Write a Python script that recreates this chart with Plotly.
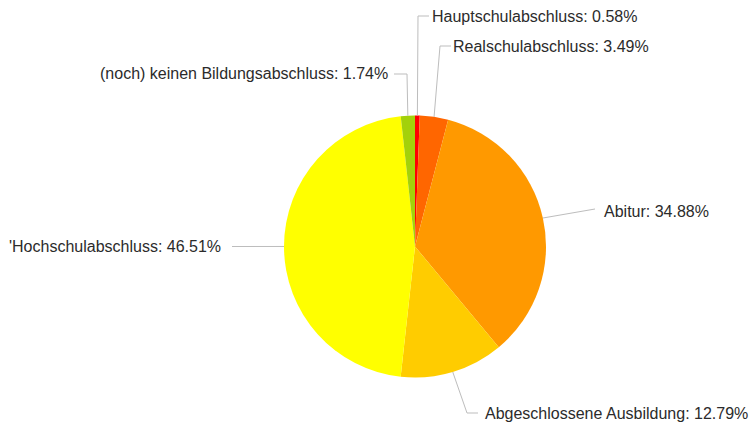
import math
import plotly.graph_objects as go

# Highest educational attainment, share in percent
categories = [
    "Hauptschulabschluss",
    "Realschulabschluss",
    "Abitur",
    "Abgeschlossene Ausbildung",
    "'Hochschulabschluss",
    "(noch) keinen Bildungsabschluss",
]
shares = [0.58, 3.49, 34.88, 12.79, 46.51, 1.74]
colors = ["#FF0000", "#FF6600", "#FF9900", "#FFCC00", "#FFFF00", "#A3D10A"]

W, H = 749, 429
CX, CY, R = 415, 246.5, 131  # pie centre and radius in pixels

# label placement: (elbow point, text anchor point, text side)
label_layout = [
    ((418, 16), (430, 17), "left"),
    ((440, 46), (451, 47), "left"),
    ((595, 209), (602, 211), "left"),
    ((467, 413), (483, 413), "left"),
    ((232, 246.5), (223, 246.5), "right"),
    ((407, 74), (390, 74), "right"),
]
# short horizontal stubs after the elbow (pixels, signed)
stubs = [11, 11, 0, 11, 0, -13]


def px(x):
    return x / W


def py(y):
    return 1 - y / H


fig = go.Figure(
    go.Pie(
        labels=categories,
        values=shares,
        sort=False,
        direction="clockwise",
        rotation=0,
        marker=dict(colors=colors, line=dict(width=0)),
        textinfo="none",
        hoverinfo="label+percent",
        showlegend=False,
        domain=dict(x=[px(CX - R), px(CX + R)], y=[py(CY + R), py(CY - R)]),
    )
)

total = sum(shares)
cum = 0.0
shapes = []
annotations = []
for name, val, (elbow, tpos, side), stub in zip(categories, shares, label_layout, stubs):
    mid = (cum + val / 2) / total * 2 * math.pi
    cum += val
    ex = CX + R * math.sin(mid)
    ey = CY - R * math.cos(mid)
    pts = [(ex, ey), elbow]
    if stub:
        pts.append((elbow[0] + stub, elbow[1]))
    path = "M " + " L ".join(f"{px(x)},{py(y)}" for x, y in pts)
    shapes.append(
        dict(type="path", path=path, xref="paper", yref="paper",
             line=dict(color="#BDBDBD", width=1))
    )
    annotations.append(
        dict(
            x=px(tpos[0]), y=py(tpos[1]), xref="paper", yref="paper",
            text=f"{name}: {val:.2f}%", showarrow=False,
            xanchor=side, yanchor="middle",
            font=dict(family="Liberation Sans, Arial, sans-serif", size=16, color="#2b2b2b"),
        )
    )

fig.update_layout(
    width=W, height=H,
    margin=dict(l=0, r=0, t=0, b=0),
    paper_bgcolor="white", plot_bgcolor="white",
    shapes=shapes, annotations=annotations,
)

fig.write_html("out.html")
